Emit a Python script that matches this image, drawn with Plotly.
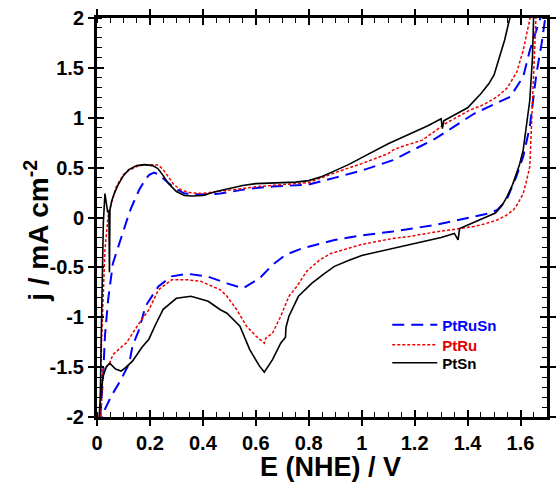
import plotly.graph_objects as go

# ---------------- data (E in V vs NHE, j in mA cm^-2) ----------------
# PtRuSn: anodic sweep then cathodic sweep
ptrusn_E = [0.012, 0.023, 0.03, 0.042, 0.06, 0.075, 0.091, 0.11, 0.128, 0.145, 0.159, 0.18, 0.196,
            0.215, 0.235, 0.257, 0.29, 0.331, 0.4, 0.466, 0.577, 0.663, 0.8, 0.9, 1.0, 1.118, 1.278,
            1.424, 1.5, 1.561, 1.61, 1.635, 1.672, 1.68,
            1.696, 1.68, 1.66, 1.645, 1.635, 1.61, 1.584, 1.547, 1.512, 1.47, 1.425, 1.278, 1.118,
            1.0, 0.897, 0.848, 0.774, 0.712, 0.663, 0.614, 0.552, 0.491, 0.417, 0.343, 0.282, 0.232,
            0.183, 0.159, 0.134, 0.122, 0.091, 0.054, 0.023, 0.015]
ptrusn_j = [-2.0, -1.6, -1.19, -0.825, -0.46, -0.33, -0.21, -0.05, 0.09, 0.19, 0.275, 0.37, 0.425,
            0.45, 0.43, 0.375, 0.3, 0.24, 0.23, 0.24, 0.29, 0.31, 0.33, 0.4, 0.47, 0.575, 0.79,
            1.04, 1.13, 1.21, 1.41, 1.675, 1.975, 2.05,
            2.05, 1.75, 1.44, 1.15, 0.91, 0.61, 0.41, 0.175, 0.075, 0.035, 0.008, -0.075, -0.14,
            -0.18, -0.225, -0.26, -0.31, -0.375, -0.475, -0.61, -0.71, -0.66, -0.59, -0.565, -0.59, -0.69,
            -0.89, -1.125, -1.29, -1.46, -1.625, -1.79, -1.96, -2.05]

# PtRu
ptru_E = [0.012, 0.017, 0.023, 0.03, 0.042, 0.054, 0.073, 0.1, 0.122, 0.15, 0.171, 0.2, 0.232, 0.25,
          0.269, 0.29, 0.318, 0.35, 0.392, 0.45, 0.54, 0.61, 0.7, 0.8, 0.9, 1.0, 1.1, 1.118, 1.15,
          1.229, 1.315, 1.407, 1.46, 1.512, 1.55, 1.586, 1.61, 1.635, 1.64,
          1.659, 1.652, 1.647, 1.64, 1.635, 1.62, 1.61, 1.59, 1.573, 1.545, 1.512, 1.47, 1.425, 1.36,
          1.29, 1.18, 1.118, 1.0, 0.95, 0.884, 0.841, 0.792, 0.755, 0.725, 0.694, 0.663, 0.638, 0.632,
          0.601, 0.565, 0.528, 0.491, 0.466, 0.42, 0.392, 0.343, 0.282, 0.232, 0.196, 0.159, 0.134,
          0.11, 0.096, 0.06, 0.048, 0.023, 0.018, 0.015]
ptru_j = [-2.0, -1.26, -0.825, -0.325, 0.01, 0.14, 0.31, 0.43, 0.475, 0.51, 0.525, 0.53, 0.525, 0.48,
          0.41, 0.33, 0.275, 0.25, 0.24, 0.26, 0.29, 0.31, 0.33, 0.35, 0.45, 0.54, 0.64, 0.675, 0.71,
          0.775, 0.94, 1.075, 1.13, 1.21, 1.3, 1.46, 1.675, 1.975, 2.05,
          2.05, 1.6, 1.175, 0.8, 0.51, 0.34, 0.24, 0.14, 0.075, 0.02, -0.025, -0.06, -0.09, -0.115,
          -0.14, -0.19, -0.21, -0.27, -0.31, -0.36, -0.425, -0.54, -0.69, -0.79, -0.99, -1.16, -1.21, -1.26,
          -1.19, -1.09, -0.925, -0.79, -0.725, -0.675, -0.64, -0.625, -0.625, -0.725, -0.925, -1.06, -1.16,
          -1.26, -1.29, -1.375, -1.46, -1.525, -1.8, -2.0]

# PtSn
ptsn_E = [0.008, 0.012, 0.016, 0.02, 0.024, 0.03, 0.035, 0.04, 0.045, 0.047, 0.049, 0.055, 0.065, 0.08,
          0.1, 0.12, 0.15, 0.18, 0.21, 0.23, 0.25, 0.27, 0.3, 0.33, 0.36, 0.4, 0.45, 0.5, 0.55, 0.6,
          0.65, 0.7, 0.75, 0.8, 0.85, 0.9, 0.95, 1.0, 1.05, 1.1, 1.15, 1.2, 1.25, 1.3, 1.305, 1.31,
          1.35, 1.4, 1.45, 1.48, 1.5, 1.52, 1.54, 1.555, 1.565,
          1.65, 1.645, 1.635, 1.622, 1.61, 1.595, 1.586, 1.57, 1.549, 1.53, 1.505, 1.487, 1.45, 1.387,
          1.37, 1.364, 1.35, 1.3, 1.2, 1.118, 1.0, 0.95, 0.897, 0.86, 0.811, 0.761, 0.725, 0.714,
          0.712, 0.694, 0.663, 0.632, 0.614, 0.577, 0.54, 0.491, 0.466, 0.42, 0.355, 0.3, 0.25, 0.22,
          0.196, 0.17, 0.134, 0.11, 0.091, 0.07, 0.048, 0.035, 0.023, 0.011, 0.008]
ptsn_j = [-2.0, -1.86, -1.2, -0.5, -0.05, 0.24, 0.12, 0.06, 0.07, -0.55, 0.08, 0.16, 0.24, 0.33,
          0.42, 0.48, 0.52, 0.53, 0.52, 0.49, 0.42, 0.34, 0.26, 0.22, 0.215, 0.22, 0.26, 0.29, 0.32, 0.34,
          0.345, 0.35, 0.355, 0.37, 0.41, 0.47, 0.53, 0.6, 0.67, 0.74, 0.8, 0.86, 0.92, 0.99, 0.89, 0.97,
          1.03, 1.1, 1.24, 1.34, 1.43, 1.6, 1.78, 1.95, 2.05,
          2.05, 1.6, 1.175, 0.9, 0.675, 0.52, 0.445, 0.33, 0.208, 0.12, 0.045, 0.025, -0.02, -0.09,
          -0.11, -0.225, -0.16, -0.2, -0.26, -0.305, -0.38, -0.43, -0.49, -0.56, -0.66, -0.79, -0.99, -1.1,
          -1.2, -1.26, -1.425, -1.55, -1.49, -1.325, -1.09, -0.96, -0.925, -0.84, -0.79, -0.81, -0.92, -1.08,
          -1.22, -1.3, -1.44, -1.5, -1.54, -1.52, -1.46, -1.5, -1.59, -1.86, -2.0]

x_range = [0, 1.7]
y_range = [-2, 2]
x_tickvals = [0, 0.2, 0.4, 0.6, 0.8, 1.0, 1.2, 1.4, 1.6]
x_ticktext = ["0", "0.2", "0.4", "0.6", "0.8", "1", "1.2", "1.4", "1.6"]
y_tickvals = [-2, -1.5, -1, -0.5, 0, 0.5, 1, 1.5, 2]
y_ticktext = ["-2", "-1.5", "-1", "-0.5", "0", "0.5", "1", "1.5", "2"]
x_title = "E (NHE) / V"
y_title = "j / mA cm<sup>-2</sup>"

FONT = "Liberation Sans, Arial, sans-serif"

fig = go.Figure()
fig.add_trace(go.Scatter(x=ptrusn_E, y=ptrusn_j, mode="lines", legend="legend",
                         name="<span style='color:#0000FF'>PtRuSn</span>",
                         line=dict(color="#0000FF", width=2, dash="12px,7px")))
fig.add_trace(go.Scatter(x=ptru_E, y=ptru_j, mode="lines", legend="legend2",
                         name="<span style='color:#E00000'>PtRu</span>",
                         line=dict(color="#EE0000", width=1.5, dash="3px,2px")))
fig.add_trace(go.Scatter(x=ptsn_E, y=ptsn_j, mode="lines", legend="legend3",
                         name="PtSn",
                         line=dict(color="#000000", width=1.6)))
# helper trace on overlay axes (inside half of the crossing major ticks)
fig.add_trace(go.Scatter(x=[], y=[], xaxis="x2", yaxis="y2", showlegend=False, hoverinfo="skip"))

def leg(ypos):
    return dict(x=0.645, y=ypos, xanchor="left", yanchor="middle",
                bgcolor="rgba(0,0,0,0)", borderwidth=0,
                font=dict(family=FONT, size=15, color="black", weight="bold"),
                itemwidth=45)

fig.update_layout(
    width=558, height=484,
    margin=dict(l=97, r=2, t=18, b=67),
    paper_bgcolor="white", plot_bgcolor="white",
    font=dict(family=FONT, size=18, color="black", weight="bold"),
    showlegend=True,
    legend=leg(0.2306), legend2=leg(0.1805), legend3=leg(0.1353),
    xaxis=dict(range=x_range, tickvals=x_tickvals, ticktext=x_ticktext,
               ticks="outside", ticklen=6, tickwidth=1.5, tickcolor="black",
               showline=True, linewidth=3, linecolor="black", mirror="allticks",
               showgrid=False, zeroline=False,
               minor=dict(ticks="inside", dtick=0.05, tick0=0, ticklen=5, tickwidth=1, tickcolor="black"),
               tickfont=dict(family=FONT, size=20, weight="bold")),
    yaxis=dict(range=y_range, tickvals=y_tickvals, ticktext=y_ticktext,
               ticks="outside", ticklen=6, tickwidth=1.5, tickcolor="black",
               showline=True, linewidth=3, linecolor="black", mirror="allticks",
               showgrid=False, zeroline=False,
               minor=dict(ticks="inside", dtick=0.1, tick0=0, ticklen=5, tickwidth=1, tickcolor="black"),
               tickfont=dict(family=FONT, size=20, weight="bold")),
    xaxis2=dict(range=x_range, overlaying="x", anchor="y", tickvals=x_tickvals,
                ticks="inside", ticklen=7, tickwidth=1.5, tickcolor="black",
                showticklabels=False, showgrid=False, zeroline=False, showline=False, mirror="allticks"),
    yaxis2=dict(range=y_range, overlaying="y", anchor="x", tickvals=y_tickvals,
                ticks="inside", ticklen=7, tickwidth=1.5, tickcolor="black",
                showticklabels=False, showgrid=False, zeroline=False, showline=False, mirror="allticks"),
    annotations=[
        dict(text=x_title, xref="paper", yref="paper", x=0.518, y=-0.125,
             xanchor="center", yanchor="middle", showarrow=False,
             font=dict(family=FONT, size=27, color="black", weight="bold")),
        dict(text=y_title, xref="paper", yref="paper", x=-0.134, y=0.466, textangle=-90,
             xanchor="center", yanchor="middle", showarrow=False,
             font=dict(family=FONT, size=28, color="black", weight="bold")),
    ],
)

fig.write_html("out.html")
